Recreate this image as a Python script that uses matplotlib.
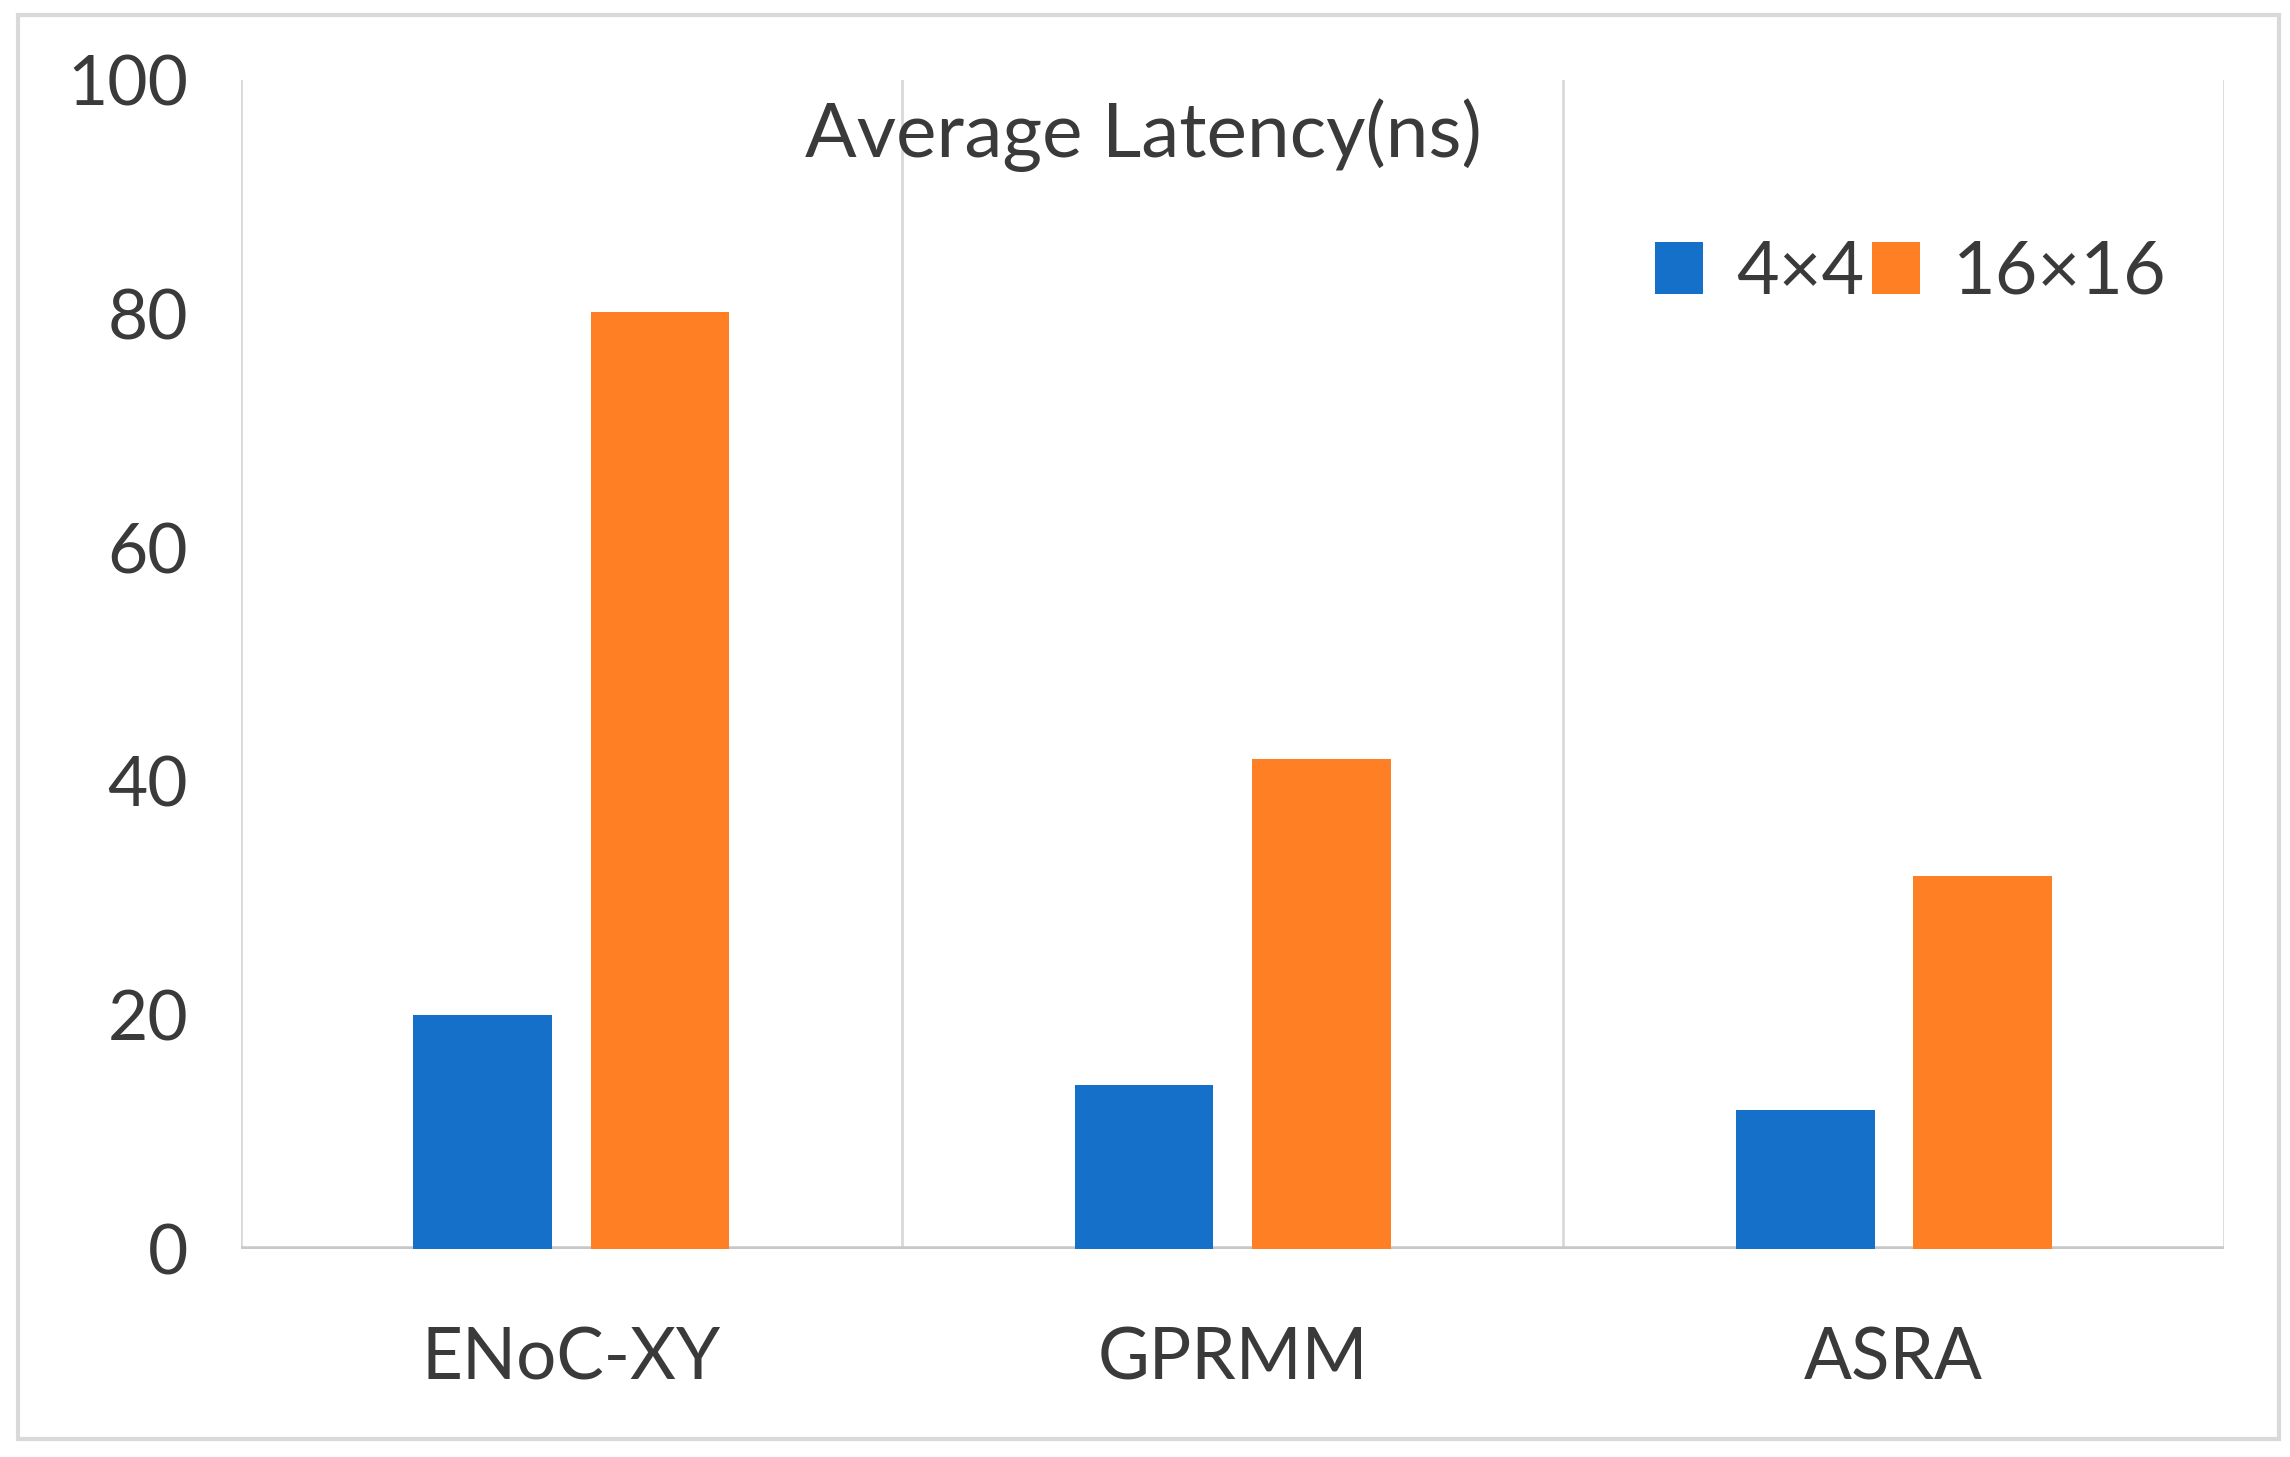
import matplotlib
matplotlib.use("Agg")
import matplotlib.pyplot as plt
import numpy as np
from matplotlib.patches import Rectangle

# --- Data ---
categories = ["ENoC-XY", "GPRMM", "ASRA"]
series_names = ["4×4", "16×16"]
lat_4x4 = [20.0, 14.0, 11.9]
lat_16x16 = [80.2, 41.9, 31.9]
yticks = [0, 20, 40, 60, 80, 100]

blue = "#1470C8"
orange = "#FF7F24"
text_col = "#3A3A3A"
grid_col = "#D9D9D9"

plt.rcParams['font.family'] = ['Lato', 'DejaVu Sans']

# --- Plotting ---
fig = plt.figure(figsize=(22.9, 14.57), dpi=100)
ax = fig.add_axes([0.1052, 0.1429, 0.8661, 0.8020])

x = np.arange(len(categories))
w = 0.21
ax.bar(x - 0.134, lat_4x4, w, color=blue, label=series_names[0], zorder=3)
ax.bar(x + 0.134, lat_16x16, w, color=orange, label=series_names[1], zorder=3)

ax.set_xlim(-0.5, len(categories) - 0.5)
ax.set_ylim(0, 100)
ax.set_yticks(yticks)
ax.set_xticks(x)
ax.set_xticklabels(categories)
ax.tick_params(axis='y', length=0, pad=38, labelsize=50, labelcolor=text_col)
ax.tick_params(axis='x', length=0, pad=56, labelsize=51, labelcolor=text_col)

# vertical gridlines at category boundaries
for b in np.arange(-0.5, len(categories), 1.0):
    ax.axvline(b, color=grid_col, lw=2, zorder=1)
ax.axhline(0, color="#C8C8C8", lw=4, zorder=2)

for s in ax.spines.values():
    s.set_visible(False)

ax.text(0.455, 0.985, "Average Latency(ns)", transform=ax.transAxes,
        ha='center', va='top', fontsize=55, color=text_col)

ax.legend(loc='center', bbox_to_anchor=(0.842, 0.835), ncol=2, frameon=False,
          fontsize=53, labelcolor=text_col, handlelength=0.65, handleheight=0.7,
          handletextpad=0.45, columnspacing=0.1, borderaxespad=0)

# outer chart border
fig.patches.append(Rectangle((0.0077, 0.0126), 0.9873, 0.9774, transform=fig.transFigure,
                             fill=False, edgecolor=grid_col, lw=3))

fig.savefig("out.png", dpi=100)
